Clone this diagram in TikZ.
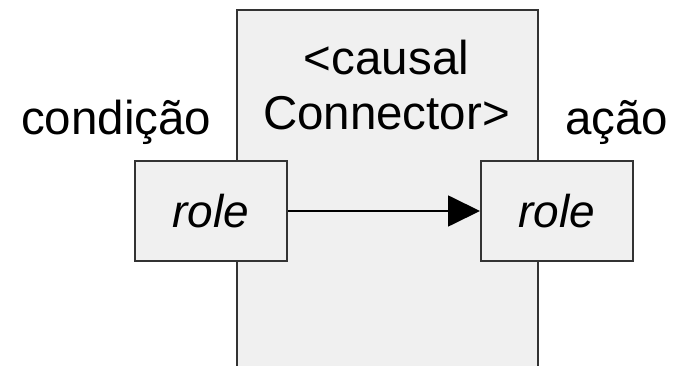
\documentclass[tikz,border=0pt]{standalone}
\usepackage{fontspec}
\setmainfont{Liberation Sans}
\usetikzlibrary{arrows.meta}
\definecolor{boxfill}{HTML}{F0F0F0}
\definecolor{boxedge}{HTML}{333333}
\tikzset{
  box/.style={draw=boxedge, fill=boxfill, line width=2pt, inner sep=0pt},
  rolebox/.style={box, minimum width=152pt, minimum height=100pt,
    font=\fontsize{46}{55}\selectfont\itshape},
  caption/.style={inner sep=0pt, font=\fontsize{47.5}{55}\selectfont},
  link/.style={draw=black, line width=1.8pt, -{Triangle[length=32pt,width=31pt]}}
}
\begin{document}
\begin{tikzpicture}[x=1pt, y=-1pt]
  \useasboundingbox (0,0) rectangle (673,366);
  % connector body, running off the bottom edge
  \node[box, minimum width=301pt, minimum height=362pt, anchor=north west]
    (conn) at (236,9) {};
  \node[caption, anchor=base] (ctop) at (386.5,75) {<causal};
  \node[caption, anchor=base] (cbot) at (386.5,130) {Connector>};
  % the two roles
  \node[rolebox] (cond) at (211,211) {role};
  \node[rolebox] (act) at (557,211) {role};
  \node[caption, anchor=base west] (lcond) at (21,135) {condição};
  \node[caption, anchor=base west] (lact) at (565,135) {ação};
  \draw[link] (cond.east) -- (act.west);
\end{tikzpicture}
\end{document}
